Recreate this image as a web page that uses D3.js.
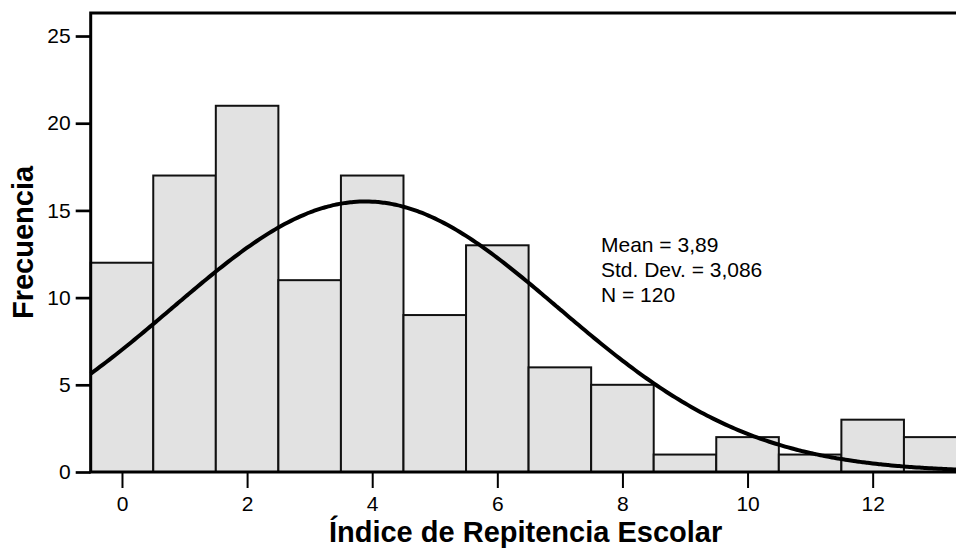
<!DOCTYPE html>
<html>
<head>
<meta charset="utf-8">
<script src="https://cdn.jsdelivr.net/npm/d3@7"></script>
<style>
  html, body { margin: 0; padding: 0; background: #fff; }
  svg { display: block; font-family: "Liberation Sans", Arial, sans-serif; }
</style>
</head>
<body>
<svg id="chart" width="956" height="554"></svg>
<script>
// Histogram of the school repetition index (bin width 1) with fitted normal curve
const binValues = [0, 1, 2, 3, 4, 5, 6, 7, 8, 9, 10, 11, 12, 13];
const frequencies = [12, 17, 21, 11, 17, 9, 13, 6, 5, 1, 2, 1, 3, 2];
const xTickValues = [0, 2, 4, 6, 8, 10, 12];
const yTickValues = [0, 5, 10, 15, 20, 25];
const meanValue = 3.89;
const stdDev = 3.086;
const nCases = 120;
const statLines = ["Mean = 3,89", "Std. Dev. = 3,086", "N = 120"];

const svg = d3.select("#chart");
const plot = { left: 90.7, right: 966.5, top: 13, bottom: 472 };

const x = d3.scaleLinear().domain([-0.5, 13.5]).range([plot.left, plot.right]);
const y = d3.scaleLinear().domain([0, 26.32]).range([plot.bottom, plot.top]);

// bars
svg.append("g")
  .selectAll("rect")
  .data(binValues.map((v, i) => ({ v, f: frequencies[i] })))
  .join("rect")
  .attr("x", d => x(d.v - 0.5))
  .attr("y", d => y(d.f))
  .attr("width", d => x(d.v + 0.5) - x(d.v - 0.5))
  .attr("height", d => y(0) - y(d.f))
  .attr("fill", "#e2e2e2")
  .attr("stroke", "#111")
  .attr("stroke-width", 2);

// normal curve scaled to counts per bin
const pdf = t => Math.exp(-0.5 * ((t - meanValue) / stdDev) ** 2) / (stdDev * Math.sqrt(2 * Math.PI));
const curvePts = d3.range(-0.5, 13.5001, 0.05).map(t => [t, nCases * 1 * pdf(t)]);
svg.append("path")
  .datum(curvePts)
  .attr("fill", "none")
  .attr("stroke", "#000")
  .attr("stroke-width", 4)
  .attr("d", d3.line().x(d => x(d[0])).y(d => y(d[1])).curve(d3.curveBasis));

// frame
svg.append("rect")
  .attr("x", plot.left)
  .attr("y", plot.top)
  .attr("width", plot.right - plot.left)
  .attr("height", plot.bottom - plot.top)
  .attr("fill", "none")
  .attr("stroke", "#000")
  .attr("stroke-width", 3);

// y axis
const yAxis = d3.axisLeft(y).tickValues(yTickValues).tickSize(15).tickPadding(5).tickFormat(d3.format("d"));
const gy = svg.append("g").attr("transform", `translate(${plot.left},0)`).call(yAxis);
gy.select(".domain").remove();
gy.selectAll(".tick line").attr("stroke", "#000").attr("stroke-width", 2.7);
gy.selectAll(".tick text").attr("font-size", 21).attr("fill", "#000")
  .attr("font-family", "Liberation Sans, Arial, sans-serif");

// x axis
const xAxis = d3.axisBottom(x).tickValues(xTickValues).tickSize(16).tickPadding(8).tickFormat(d3.format("d"));
const gx = svg.append("g").attr("transform", `translate(0,${plot.bottom})`).call(xAxis);
gx.select(".domain").remove();
gx.selectAll(".tick line").attr("stroke", "#000").attr("stroke-width", 2);
gx.selectAll(".tick text").attr("font-size", 21).attr("fill", "#000")
  .attr("font-family", "Liberation Sans, Arial, sans-serif");

// axis titles
svg.append("text")
  .attr("x", (plot.left + plot.right) / 2 - 3)
  .attr("y", 542)
  .attr("text-anchor", "middle")
  .attr("font-size", 29)
  .attr("font-weight", "bold")
  .text("Índice de Repitencia Escolar");

svg.append("text")
  .attr("transform", `translate(33,${(plot.top + plot.bottom) / 2}) rotate(-90)`)
  .attr("text-anchor", "middle")
  .attr("font-size", 29)
  .attr("font-weight", "bold")
  .text("Frecuencia");

// summary statistics
svg.append("g")
  .selectAll("text")
  .data(statLines)
  .join("text")
  .attr("x", 601)
  .attr("y", (d, i) => 252 + i * 25)
  .attr("font-size", 21)
  .text(d => d);
</script>
</body>
</html>
